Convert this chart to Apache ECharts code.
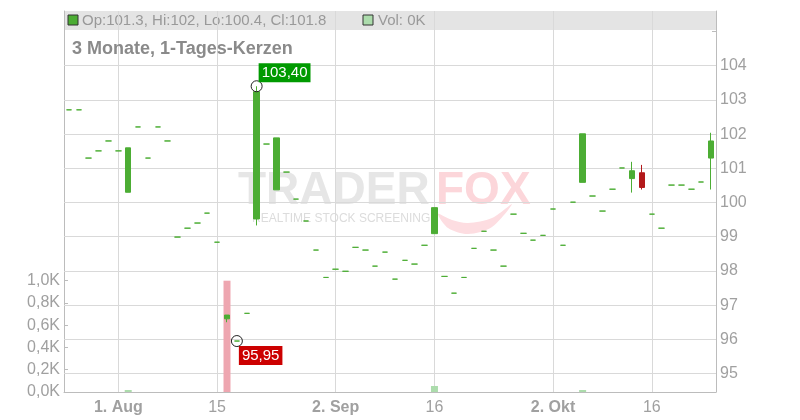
<!DOCTYPE html>
<html>
<head>
<meta charset="utf-8">
<script src="https://cdn.jsdelivr.net/npm/echarts@6/dist/echarts.min.js"></script>
<style>
  html, body { margin: 0; padding: 0; background: #fff; }
  #chart { width: 800px; height: 420px; }
</style>
</head>
<body>
<div id="chart"></div>
<script>
// trading days, 3 months
var days = [
  '2024-07-25', '2024-07-26', '2024-07-29', '2024-07-30', '2024-07-31',
  '2024-08-01', '2024-08-02', '2024-08-05', '2024-08-06', '2024-08-07', '2024-08-08', '2024-08-09',
  '2024-08-12', '2024-08-13', '2024-08-14', '2024-08-15', '2024-08-16',
  '2024-08-19', '2024-08-20', '2024-08-21', '2024-08-22', '2024-08-23',
  '2024-08-26', '2024-08-27', '2024-08-28', '2024-08-29', '2024-08-30',
  '2024-09-02', '2024-09-03', '2024-09-04', '2024-09-05', '2024-09-06',
  '2024-09-09', '2024-09-10', '2024-09-11', '2024-09-12', '2024-09-13',
  '2024-09-16', '2024-09-17', '2024-09-18', '2024-09-19', '2024-09-20',
  '2024-09-23', '2024-09-24', '2024-09-25', '2024-09-26', '2024-09-27',
  '2024-09-30', '2024-10-01', '2024-10-02', '2024-10-03', '2024-10-04',
  '2024-10-07', '2024-10-08', '2024-10-09', '2024-10-10', '2024-10-11',
  '2024-10-14', '2024-10-15', '2024-10-16', '2024-10-17', '2024-10-18',
  '2024-10-21', '2024-10-22', '2024-10-23', '2024-10-24'
]

var opens = [
  102.71, 102.71, 101.30, 101.51, 101.80, 101.51, 100.30, 102.21, 101.30, 102.21,
  101.80, 98.99, 99.25, 99.40, 99.69, 98.84, 96.60, 95.95, 96.76, 99.52,
  101.71, 100.37, 100.89, 100.10, 99.46, 98.61, 97.81, 98.05, 97.99, 98.69,
  98.61, 98.14, 98.55, 97.76, 98.31, 98.20, 98.75, 99.09, 97.84, 97.35,
  97.81, 98.66, 99.16, 98.61, 98.14, 99.66, 99.10, 98.90, 99.04, 99.81,
  98.75, 100.01, 100.59, 100.19, 99.75, 100.39, 101.01, 100.70, 100.87, 99.66,
  99.25, 100.51, 100.51, 100.39, 100.60, 101.30
]
var closes = [
  102.71, 102.71, 101.30, 101.51, 101.80, 101.51, 101.60, 102.21, 101.30, 102.21,
  101.80, 98.99, 99.25, 99.40, 99.69, 98.84, 96.71, 95.95, 96.76, 103.24,
  101.71, 101.89, 100.89, 100.10, 99.46, 98.61, 97.81, 98.05, 97.99, 98.69,
  98.61, 98.14, 98.55, 97.76, 98.31, 98.20, 98.75, 99.85, 97.84, 97.35,
  97.81, 98.66, 99.16, 98.61, 98.14, 99.66, 99.10, 98.90, 99.04, 99.81,
  98.75, 100.01, 102.01, 100.19, 99.75, 100.39, 101.01, 100.93, 100.44, 99.66,
  99.25, 100.51, 100.51, 100.39, 100.60, 101.80
]
var highs = [
  102.71, 102.71, 101.30, 101.51, 101.80, 101.51, 101.60, 102.21, 101.30, 102.21,
  101.80, 98.99, 99.25, 99.40, 99.69, 98.84, 96.71, 95.95, 96.76, 103.40,
  101.71, 101.89, 100.89, 100.10, 99.46, 98.61, 97.81, 98.05, 97.99, 98.69,
  98.61, 98.14, 98.55, 97.76, 98.31, 98.20, 98.75, 99.85, 97.84, 97.35,
  97.81, 98.66, 99.16, 98.61, 98.14, 99.66, 99.10, 98.90, 99.04, 99.81,
  98.75, 100.01, 102.01, 100.19, 99.75, 100.39, 101.01, 101.19, 101.10, 99.66,
  99.25, 100.51, 100.51, 100.39, 100.60, 102.04
]
var lows = [
  102.71, 102.71, 101.30, 101.51, 101.80, 101.51, 100.30, 102.21, 101.30, 102.21,
  101.80, 98.99, 99.25, 99.40, 99.69, 98.84, 96.50, 95.95, 96.76, 99.33,
  101.71, 100.37, 100.89, 100.10, 99.46, 98.61, 97.81, 98.05, 97.99, 98.69,
  98.61, 98.14, 98.55, 97.76, 98.31, 98.20, 98.75, 99.09, 97.84, 97.35,
  97.81, 98.66, 99.16, 98.61, 98.14, 99.66, 99.10, 98.90, 99.04, 99.81,
  98.75, 100.01, 100.59, 100.19, 99.75, 100.39, 101.01, 100.29, 100.38, 99.66,
  99.25, 100.51, 100.51, 100.39, 100.60, 100.38
]
// volume in thousand
var volumes = [
  0, 0, 0, 0, 0, 0, 0.018, 0, 0, 0,
  0, 0, 0, 0, 0, 0, 1.0, 0, 0, 0,
  0, 0, 0, 0, 0, 0, 0, 0, 0, 0,
  0, 0, 0, 0, 0, 0, 0, 0.054, 0, 0,
  0, 0, 0, 0, 0, 0, 0, 0, 0, 0,
  0, 0, 0.018, 0, 0, 0, 0, 0, 0, 0,
  0, 0, 0, 0, 0, 0
]

var tickDays = ['2024-08-01', '2024-08-15', '2024-09-02', '2024-09-16', '2024-10-02', '2024-10-16']
var tickNames = ['1. Aug', '15', '2. Sep', '16', '2. Okt', '16']
var priceTicks = [95, 96, 97, 98, 99, 100, 101, 102, 103, 104]
var volumeTicks = [0, 0.2, 0.4, 0.6, 0.8, 1.0]

var FONT = 'Liberation Sans, Arial, sans-serif'
var UP = '#4cad34'
var DOWN = '#b3191b'
var GRID_COLOR = '#d9d9d9'
var AXIS_COLOR = '#bcbcbc'
var TEXT_COLOR = '#a0a0a0'

var candles = days.map(function (d, i) {
  return [opens[i], closes[i], lows[i], highs[i]]
})

var hiIdx = 0
var loIdx = 0
for (var i = 1; i < days.length; i++) {
  if (highs[i] > highs[hiIdx]) hiIdx = i
  if (lows[i] < lows[loIdx]) loIdx = i
}

function comma (v, d) {
  return v.toFixed(d).replace('.', ',')
}
function short (v) {
  return String(Number(v.toFixed(1)))
}

var last = days.length - 1
var headerText = 'Op:' + short(opens[last]) + ', Hi:' + short(highs[last]) +
  ', Lo:' + short(lows[last]) + ', Cl:' + short(closes[last])

function isTick (value) {
  return tickDays.indexOf(value) >= 0
}

var myChart = echarts.init(document.getElementById('chart'))

var option = {
  animation: false,
  backgroundColor: '#fff',
  textStyle: { fontFamily: FONT },
  title: {
    text: '3 Monate, 1-Tages-Kerzen',
    left: 67,
    top: 35,
    textStyle: { color: '#8a8a8a', fontSize: 18, fontWeight: 'bold', fontFamily: FONT }
  },
  graphic: [
    { type: 'rect', z: -10, shape: { x: 64, y: 11, width: 652, height: 19 }, style: { fill: '#e4e4e4' } },
    { type: 'rect', shape: { x: 68, y: 15, width: 10, height: 10 }, style: { fill: UP, stroke: '#333', lineWidth: 1 } },
    { type: 'text', x: 82, y: 20.5, style: { text: headerText, fill: '#999', font: '15px ' + FONT, verticalAlign: 'middle' } },
    { type: 'rect', shape: { x: 363, y: 15, width: 10, height: 10 }, style: { fill: '#acdcac', stroke: '#333', lineWidth: 1 } },
    { type: 'text', x: 378, y: 20.5, style: { text: 'Vol: ' + short(volumes[last]) + 'K', fill: '#999', font: '15px ' + FONT, verticalAlign: 'middle' } },
    // watermark
    { type: 'text', z: -5, x: 238, y: 191, style: { text: 'TRADER', fill: '#e6e6e6', font: 'bold 46px ' + FONT, verticalAlign: 'middle' } },
    { type: 'text', z: -5, x: 436, y: 191, style: { text: 'FOX', fill: '#fcd6da', font: 'bold 46px ' + FONT, verticalAlign: 'middle' } },
    {
      type: 'polygon', z: -5,
      shape: { smooth: 0.3, points: [[438, 214], [448, 228], [468, 234], [492, 227], [512, 204], [492, 218], [468, 223], [452, 220]] },
      style: { fill: '#fddde1' }
    },
    { type: 'text', z: -5, x: 252, y: 219, style: { text: 'REALTIME STOCK SCREENING', fill: '#dcdcdc', font: '12px ' + FONT, verticalAlign: 'middle' } }
  ],
  grid: [
    { left: 64, right: 84, top: 11, bottom: 28 },
    { left: 64, right: 84, top: 280.7, bottom: 28 }
  ],
  xAxis: [
    {
      type: 'category',
      gridIndex: 0,
      data: days,
      boundaryGap: true,
      axisLine: { show: true, lineStyle: { color: AXIS_COLOR } },
      axisTick: { show: false },
      axisLabel: {
        interval: function (idx, value) { return isTick(value) },
        margin: 8,
        color: TEXT_COLOR,
        fontSize: 16,
        fontFamily: FONT,
        formatter: function (value) {
          var name = tickNames[tickDays.indexOf(value)]
          return name.indexOf('.') >= 0 ? '{b|' + name + '}' : name
        },
        rich: { b: { fontWeight: 'bold', fontSize: 16, color: TEXT_COLOR, fontFamily: FONT } }
      },
      splitLine: {
        show: true,
        alignWithLabel: true,
        interval: function (idx, value) { return isTick(value) },
        lineStyle: { color: GRID_COLOR }
      }
    },
    {
      type: 'category',
      gridIndex: 1,
      data: days,
      boundaryGap: true,
      show: false
    }
  ],
  yAxis: [
    {
      type: 'value',
      gridIndex: 0,
      position: 'right',
      min: 94.46,
      max: 105.6,
      splitNumber: 11,
      axisLine: { show: true, lineStyle: { color: AXIS_COLOR } },
      axisTick: { show: true, inside: true, length: 4, lineStyle: { color: AXIS_COLOR } },
      axisLabel: {
        showMinLabel: false,
        showMaxLabel: false,
        margin: 4,
        color: TEXT_COLOR,
        fontSize: 16,
        fontFamily: FONT,
        formatter: function (v) {
          return priceTicks.indexOf(v) >= 0 ? String(v) : ''
        }
      },
      splitLine: { show: false }
    },
    {
      type: 'value',
      gridIndex: 0,
      position: 'left',
      min: 0,
      max: 1,
      axisLine: { show: true, lineStyle: { color: AXIS_COLOR } },
      axisTick: { show: false },
      axisLabel: { show: false },
      splitLine: { show: false }
    },
    {
      type: 'value',
      gridIndex: 1,
      position: 'left',
      min: volumeTicks[0],
      max: volumeTicks[volumeTicks.length - 1],
      interval: 0.2,
      axisLine: { show: false },
      axisTick: { show: true, inside: true, length: 4, lineStyle: { color: AXIS_COLOR } },
      axisLabel: {
        margin: 4,
        color: TEXT_COLOR,
        fontSize: 16,
        fontFamily: FONT,
        formatter: function (v) { return comma(v, 1) + 'K' }
      },
      splitLine: { show: false }
    }
  ],
  series: [
    {
      name: 'Vol',
      type: 'bar',
      xAxisIndex: 1,
      yAxisIndex: 2,
      barWidth: 7,
      data: volumes,
      itemStyle: {
        color: function (p) {
          var i = p.dataIndex
          return (i === 0 || closes[i] >= closes[i - 1]) ? '#acdcac' : '#eea6b0'
        }
      }
    },
    {
      name: 'Kurs',
      type: 'candlestick',
      xAxisIndex: 0,
      yAxisIndex: 0,
      barWidth: 6,
      data: candles,
      itemStyle: {
        color: UP,
        color0: DOWN,
        borderColor: UP,
        borderColor0: DOWN,
        borderColorDoji: UP,
        borderWidth: 1
      },
      markLine: {
        silent: true,
        z: 1,
        symbol: 'none',
        label: { show: false },
        lineStyle: { color: GRID_COLOR, width: 1, type: 'solid' },
        data: priceTicks.map(function (v) { return { yAxis: v } })
      },
      markPoint: {
        silent: true,
        symbol: 'circle',
        symbolSize: 11,
        itemStyle: { color: 'rgba(0,0,0,0)', borderColor: '#222', borderWidth: 1 },
        data: [
          {
            coord: [hiIdx, highs[hiIdx]],
            label: {
              show: true,
              position: [8, -17],
              formatter: comma(highs[hiIdx], 2),
              color: '#fff',
              fontSize: 15,
              fontFamily: FONT,
              backgroundColor: '#009a00',
              padding: [2, 3]
            }
          },
          {
            coord: [loIdx, lows[loIdx]],
            label: {
              show: true,
              position: [8, 11],
              formatter: comma(lows[loIdx], 2),
              color: '#fff',
              fontSize: 15,
              fontFamily: FONT,
              backgroundColor: '#cc0000',
              padding: [2, 3]
            }
          }
        ]
      }
    }
  ]
}

myChart.setOption(option)
</script>
</body>
</html>
